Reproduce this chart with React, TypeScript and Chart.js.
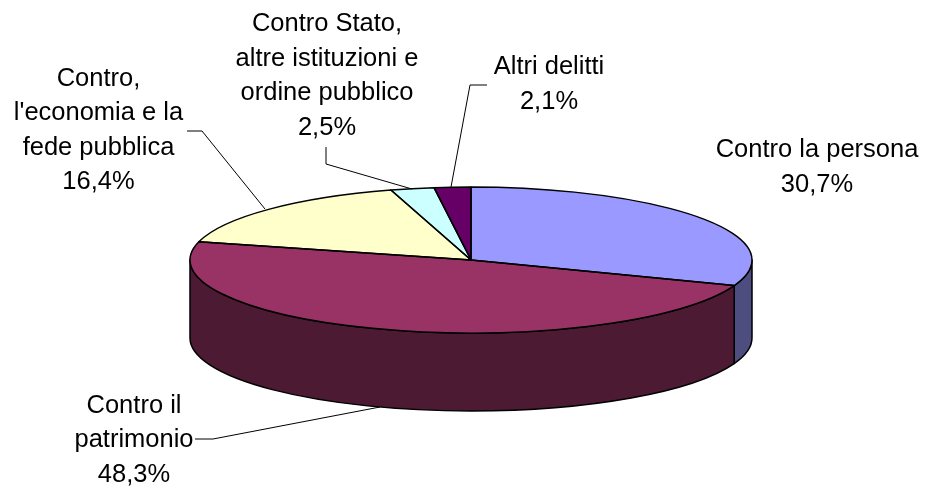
import { useEffect, useRef } from "react";
import { Chart, registerables } from "chart.js";

Chart.register(...registerables);

const categories = [
  "Contro la persona",
  "Contro il patrimonio",
  "Contro, l'economia e la fede pubblica",
  "Contro Stato, altre istituzioni e ordine pubblico",
  "Altri delitti",
];
const shares = [30.7, 48.3, 16.4, 2.5, 2.1];
const labelLines = [
  ["Contro la persona"],
  ["Contro il", "patrimonio"],
  ["Contro,", "l'economia e la", "fede pubblica"],
  ["Contro Stato,", "altre istituzioni e", "ordine pubblico"],
  ["Altri delitti"],
];
const topColors = ["#9999FF", "#993366", "#FFFFCC", "#CCFFFF", "#660066"];
const wallColors = ["#4D4D80", "#4D1A33", "#808066", "#668080", "#330033"];

const PIE = { cx: 471, cy: 260, rx: 281, ry: 73, depth: 78 };
const LINE_HEIGHT = 34.5;
const labelAnchors = [
  { x: 817, y: 150 },
  { x: 134, y: 405.5 },
  { x: 98.5, y: 78.5 },
  { x: 327, y: 24 },
  { x: 549, y: 67 },
];
const leaders: ([number, number][] | null)[] = [
  null,
  [[195, 439], [213, 439], [380, 407]],
  [[187, 131], [202, 131], [265, 209]],
  [[326, 147], [326, 164], [412, 189]],
  [[487, 85], [470, 85], [451, 187]],
];

const pie3d = {
  id: "pie3d",
  beforeDatasetsDraw(chart: any) {
    const ctx = chart.ctx;
    const arcs = chart.getDatasetMeta(0).data;
    const { cx, cy, rx, ry, depth } = PIE;
    ctx.save();
    ctx.lineWidth = 1.5;
    ctx.strokeStyle = "#000";
    ctx.lineJoin = "round";
    arcs.forEach((arc: any, i: number) => {
      const a0 = Math.max(arc.startAngle, 0);
      const a1 = Math.min(arc.endAngle, Math.PI);
      if (a1 <= a0) return;
      ctx.beginPath();
      ctx.ellipse(cx, cy, rx, ry, 0, a0, a1);
      ctx.lineTo(cx + rx * Math.cos(a1), cy + ry * Math.sin(a1) + depth);
      ctx.ellipse(cx, cy + depth, rx, ry, 0, a1, a0, true);
      ctx.closePath();
      ctx.fillStyle = wallColors[i];
      ctx.fill();
      ctx.stroke();
    });
    ctx.restore();
    const a = arcs[0];
    const R = a.outerRadius;
    ctx.save();
    ctx.translate(cx, cy);
    ctx.scale(rx / R, ry / R);
    ctx.translate(-a.x, -a.y);
  },
  afterDatasetsDraw(chart: any) {
    const ctx = chart.ctx;
    ctx.restore();
    const arcs = chart.getDatasetMeta(0).data;
    const { cx, cy, rx, ry } = PIE;
    ctx.save();
    ctx.lineWidth = 1.5;
    ctx.strokeStyle = "#000";
    ctx.lineJoin = "round";
    arcs.forEach((arc: any) => {
      ctx.beginPath();
      ctx.moveTo(cx, cy);
      ctx.ellipse(cx, cy, rx, ry, 0, arc.startAngle, arc.endAngle);
      ctx.closePath();
      ctx.stroke();
    });
    ctx.restore();
  },
  afterDraw(chart: any) {
    const ctx = chart.ctx;
    ctx.save();
    ctx.strokeStyle = "#000";
    ctx.lineWidth = 1;
    leaders.forEach((pts) => {
      if (!pts) return;
      ctx.beginPath();
      pts.forEach(([x, y], k) => (k ? ctx.lineTo(x, y) : ctx.moveTo(x, y)));
      ctx.stroke();
    });
    ctx.fillStyle = "#000";
    ctx.font = '25.5px "Liberation Sans", Arial, sans-serif';
    ctx.textAlign = "center";
    ctx.textBaseline = "middle";
    shares.forEach((v, i) => {
      const lines = [...labelLines[i], v.toFixed(1).replace(".", ",") + "%"];
      lines.forEach((t, k) => {
        ctx.fillText(t, labelAnchors[i].x, labelAnchors[i].y + k * LINE_HEIGHT);
      });
    });
    ctx.restore();
  },
};

export default function App() {
  const ref = useRef<HTMLCanvasElement>(null);
  useEffect(() => {
    document.body.style.margin = "0";
    document.body.style.background = "#fff";
    const chart = new Chart(ref.current!, {
      type: "pie",
      data: {
        labels: categories,
        datasets: [
          {
            data: shares,
            backgroundColor: topColors,
            borderWidth: 0,
          },
        ],
      },
      options: {
        responsive: false,
        animation: false,
        layout: { padding: 0 },
        plugins: { legend: { display: false }, tooltip: { enabled: false } },
      },
      plugins: [pie3d],
    } as any);
    return () => chart.destroy();
  }, []);
  return <canvas ref={ref} width={925} height={488} style={{ display: "block" }} />;
}
